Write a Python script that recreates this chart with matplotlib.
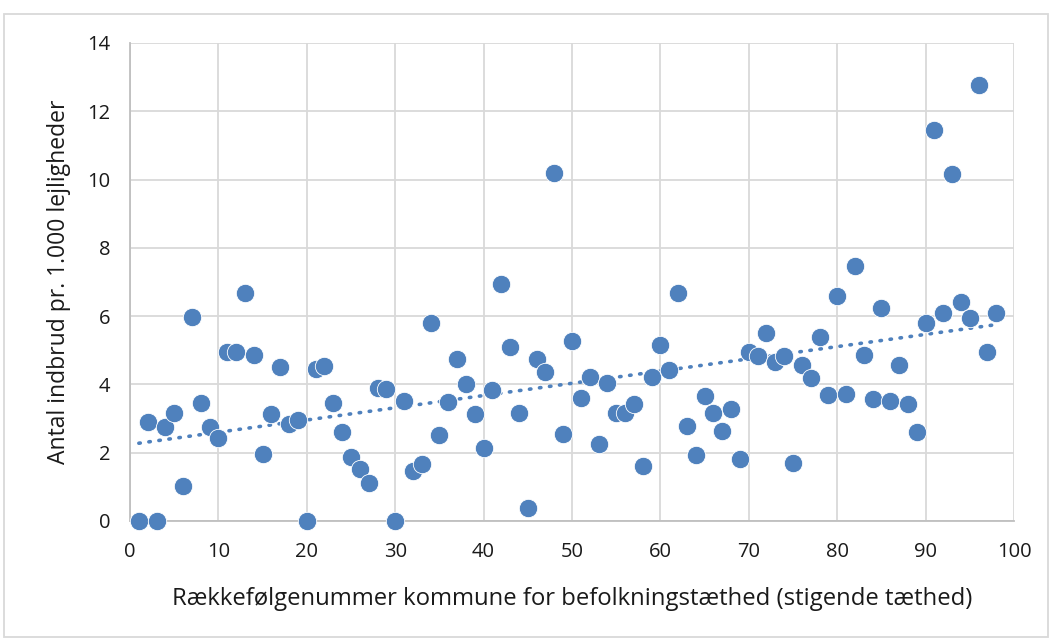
import numpy as np
import matplotlib
matplotlib.use("Agg")
import matplotlib.pyplot as plt
from matplotlib.patches import Rectangle

plt.rcParams['font.family'] = ['Open Sans', 'DejaVu Sans']

# Rank of municipality by population density (1 = lowest)
rank = list(range(1, 99))

# Burglaries per 1,000 apartments
burglaries = [
    0.0, 2.9, 0.0, 2.75, 3.15, 1.02, 5.97, 3.47, 2.76, 2.42,
    4.96, 4.96, 6.67, 4.86, 1.96, 3.13, 4.5, 2.85, 2.95, 0.0,
    4.45, 4.55, 3.45, 2.6, 1.88, 1.53, 1.12, 3.9, 3.86, 0.0,
    3.52, 1.46, 1.66, 5.81, 2.52, 3.49, 4.75, 4.0, 3.13, 2.13,
    3.84, 6.94, 5.11, 3.15, 0.39, 4.74, 4.36, 10.2, 2.54, 5.27,
    3.59, 4.23, 2.26, 4.03, 3.17, 3.17, 3.42, 1.6, 4.23, 5.16,
    4.42, 6.67, 2.78, 1.92, 3.66, 3.16, 2.63, 3.29, 1.82, 4.95,
    4.83, 5.5, 4.67, 4.82, 1.71, 4.56, 4.18, 5.4, 3.69, 6.59,
    3.72, 7.47, 4.87, 3.57, 6.25, 3.51, 4.57, 3.42, 2.62, 5.81,
    11.46, 6.1, 10.16, 6.41, 5.96, 12.78, 4.96, 6.1,
]

x_ticks = [0, 10, 20, 30, 40, 50, 60, 70, 80, 90, 100]
y_ticks = [0, 2, 4, 6, 8, 10, 12, 14]

blue = '#4F81BD'

fig = plt.figure(figsize=(10.5, 6.39), dpi=100)
ax = fig.add_axes([130 / 1050, 1 - 521 / 639, 884 / 1050, 478 / 639])

# linear trendline, like Excel's
coef = np.polyfit(rank, burglaries, 1)
trend = np.poly1d(coef)
xs = np.array([rank[0], rank[-1]])
ax.plot(xs, trend(xs), color=blue, linewidth=2.6,
        linestyle=(0, (0.4, 2.4)), dash_capstyle='round', zorder=2)

ax.scatter(rank, burglaries, s=175, color=blue, edgecolors='white',
           linewidths=0.6, zorder=3, clip_on=False)

ax.set_xlim(0, 100)
ax.set_ylim(0, 14)
ax.set_xticks(x_ticks)
ax.set_yticks(y_ticks)
ax.grid(True, color='#D9D9D9', linewidth=1.3)
ax.set_axisbelow(True)
for side in ['top', 'right']:
    ax.spines[side].set_visible(False)
for side in ['left', 'bottom']:
    ax.spines[side].set_color('#BFBFBF')
    ax.spines[side].set_linewidth(1.3)
ax.tick_params(length=0, labelsize=14.5, colors='#1a1a1a')
ax.tick_params(axis='x', pad=15)
ax.tick_params(axis='y', pad=14)

ax.set_xlabel('Rækkefølgenummer kommune for befolkningstæthed (stigende tæthed)',
              fontsize=17.2, color='#1a1a1a', labelpad=18)
ax.set_ylabel('Antal indbrud pr. 1.000 lejligheder', fontsize=16.5,
              color='#1a1a1a', labelpad=12)

# chart area border
fig.patches.append(Rectangle((4 / 1050, 2 / 639), 1044 / 1050, 623 / 639,
                             transform=fig.transFigure, fill=False,
                             edgecolor='#D9D9D9', linewidth=1.3))

fig.savefig('out.png', dpi=100, facecolor='white')
